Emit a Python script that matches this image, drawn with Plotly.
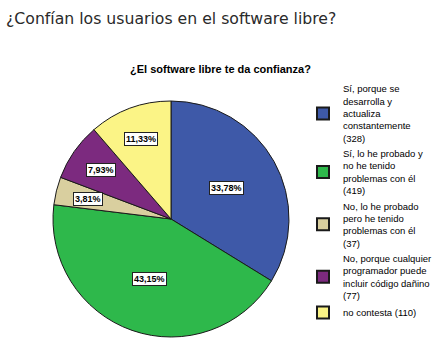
import math
import plotly.graph_objects as go

categories = [
    "Sí, porque se<br>desarrolla y<br>actualiza<br>constantemente<br>(328)",
    "Sí, lo he probado y<br>no he tenido<br>problemas con él<br>(419)",
    "No, lo he probado<br>pero he tenido<br>problemas con él<br>(37)",
    "No, porque cualquier<br>programador puede<br>incluir código dañino<br>(77)",
    "no contesta (110)",
]
counts = [328, 419, 37, 77, 110]
colors = ["#3e59a8", "#2eb84b", "#d9cf9f", "#7c2a7f", "#fbf486"]

W, H = 447, 363
# pie placement (pixels)
pie_x0, pie_x1, pie_y0, pie_y1 = 46, 296, 101, 337

fig = go.Figure()
fig.add_trace(go.Pie(
    labels=categories,
    values=counts,
    sort=False,
    direction="clockwise",
    rotation=0,
    marker=dict(colors=colors, line=dict(color="#1a1a1a", width=1)),
    textinfo="none",
    domain=dict(x=[pie_x0 / W, pie_x1 / W], y=[1 - pie_y1 / H, 1 - pie_y0 / H]),
    hoverinfo="label+percent",
))

# boxed percentage labels positioned from the data (slice bisectors)
total = sum(counts)
cx = (pie_x0 + pie_x1) / 2
cy = (pie_y0 + pie_y1) / 2
R = min(pie_x1 - pie_x0, pie_y1 - pie_y0) / 2
annotations = []
cum = 0
for v in counts:
    frac = v / total
    theta = 2 * math.pi * (cum + frac / 2)
    cum += frac
    rf = 0.54 if frac > 0.2 else 0.72
    px = cx + rf * R * math.sin(theta)
    py = cy - rf * R * math.cos(theta)
    annotations.append(dict(
        text="<b>" + f"{frac * 100:.2f}".replace(".", ",") + "%</b>",
        x=px / W, y=1 - py / H, xref="paper", yref="paper",
        xanchor="center", yanchor="middle", showarrow=False,
        bgcolor="white", bordercolor="#222222", borderwidth=1, borderpad=1,
        font=dict(family="Arial, Liberation Sans, sans-serif", size=9, color="black"),
    ))

annotations += [
    dict(text="¿Confían los usuarios en el software libre?", x=4 / W, y=1 - 18 / H,
         xref="paper", yref="paper", xanchor="left", yanchor="middle", showarrow=False,
         font=dict(family="DejaVu Sans, Verdana, sans-serif", size=15.7, color="#2a2a2a")),
    dict(text="<b>¿El software libre te da confianza?</b>", x=220 / W, y=1 - 70 / H,
         xref="paper", yref="paper", xanchor="center", yanchor="middle", showarrow=False,
         font=dict(family="Arial, Liberation Sans, sans-serif", size=11, color="black")),
]

fig.update_layout(
    width=W, height=H,
    margin=dict(l=0, r=0, t=0, b=0),
    paper_bgcolor="white",
    separators=",.",
    showlegend=True,
    legend=dict(
        x=303 / W, y=1 - 76 / H, xanchor="left", yanchor="top",
        font=dict(family="Arial, Liberation Sans, sans-serif", size=9.5, color="black"),
        itemsizing="constant",
        tracegroupgap=0,
        bgcolor="rgba(0,0,0,0)",
    ),
    annotations=annotations,
)

fig.write_html("out.html", config={"displayModeBar": False},
               post_script="document.body.style.margin='0px';")
